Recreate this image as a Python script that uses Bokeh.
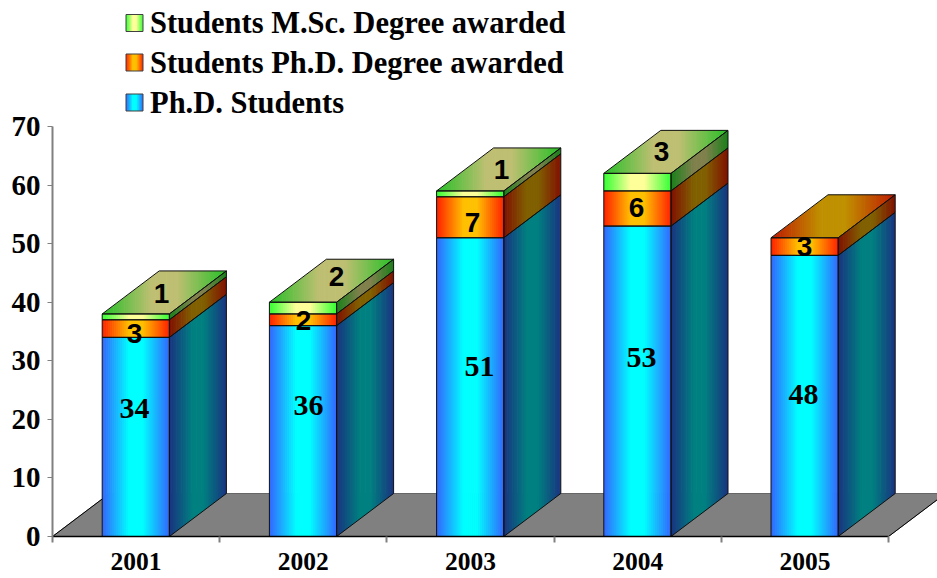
from bokeh.plotting import figure
from bokeh.models import Range1d, FixedTicker
from bokeh.embed import file_html
from bokeh.resources import INLINE
from bokeh.core.properties import value

years = ["2001", "2002", "2003", "2004", "2005"]
phd_students = [34, 36, 51, 53, 48]
phd_awarded = [3, 2, 7, 6, 3]
msc_awarded = [1, 2, 1, 3, 0]
legend_labels = ["Students M.Sc. Degree awarded", "Students Ph.D. Degree awarded", "Ph.D. Students"]
y_ticks = [0, 10, 20, 30, 40, 50, 60, 70]

# layout (page pixels -> data units)
PX_X, PX_Y = 167.2, 5.857
X0_PAGE, Y0_PAGE = 52, 536
DX, DY = 57 / PX_X, 43 / PX_Y
BAR_W = 67.2 / PX_X
OVER = 0.7 / PX_X   # each strip runs under the next, so no seams show
def dx_(px): return 0.5 + (px - X0_PAGE) / PX_X
def dy_(py): return (Y0_PAGE - py) / PX_Y

EDGE = {"blue": (0x33, 0x66, 0xff), "red": (0xff, 0x20, 0x00), "green": (0x33, 0xff, 0x33)}
MID = {"blue": (0, 0xff, 0xff), "red": (0xff, 0xc0, 0), "green": (0xff, 0xff, 0x99)}

def grad(name, t, k=1.0):
    u = max(0.0, (abs(2 * t - 1) - 0.2) / 0.8)
    c = [(e * u + m * (1 - u)) * k for e, m in zip(EDGE[name], MID[name])]
    return "#%02x%02x%02x" % tuple(int(round(v)) for v in c)

N = 34
fig = figure(width=937, height=578, output_backend="svg", toolbar_location=None,
             x_range=Range1d(0.5, 0.5 + (937 - 52) / PX_X), y_range=Range1d(0, Y0_PAGE / PX_Y),
             min_border_left=52, min_border_right=0, min_border_top=0, min_border_bottom=578 - Y0_PAGE,
             outline_line_color=None, background_fill_color="white")
fig.grid.visible = False

xa, ya = fig.xaxis[0], fig.yaxis[0]
ya.ticker = FixedTicker(ticks=y_ticks)
ya.bounds = (0, 70)
ya.axis_line_color = "#808080"
ya.axis_line_width = 2
ya.major_tick_line_color = "#808080"
ya.major_tick_out = 5
ya.major_tick_in = 0
ya.minor_tick_line_color = None
ya.major_label_standoff = 7
ya.major_label_text_font = "Liberation Serif"
ya.major_label_text_font_style = "bold"
ya.major_label_text_font_size = "29px"
ya.major_label_text_color = "black"

xa.ticker = FixedTicker(ticks=[1, 2, 3, 4, 5], minor_ticks=[0.5, 1.5, 2.5, 3.5, 4.5, 5.5])
xa.bounds = (0.5, 5.5)
xa.major_label_overrides = {i + 1: y for i, y in enumerate(years)}
xa.axis_line_color = "black"
xa.axis_line_width = 1.5
xa.major_tick_line_color = None
xa.major_tick_out = 0
xa.major_tick_in = 0
xa.minor_tick_line_color = "#808080"
xa.minor_tick_line_width = 2
xa.minor_tick_out = 6
xa.minor_tick_in = 0
xa.major_label_standoff = 10
xa.major_label_text_font = "Liberation Serif"
xa.major_label_text_font_style = "bold"
xa.major_label_text_font_size = "25.5px"
xa.major_label_text_color = "black"

# floor
fig.patch([0.5, 0.5 + DX, 5.5 + DX, 5.5], [0, DY, DY, 0], fill_color="#808080",
          line_color="#666666", line_width=1)
fig.multi_line([[0.5, 0.5 + DX], [5.5, 5.5 + DX]], [[0, DY], [0, DY]], line_color="black", line_width=1)


def strips_front(x0, w, y0, y1, name, xs, ys, cs):
    for i in range(N):
        a, b = x0 + w * i / N, x0 + w * (i + 1) / N
        if i < N - 1:
            b += OVER
        xs.append([a, b, b, a]); ys.append([y0, y0, y1, y1]); cs.append(grad(name, (i + .5) / N))

def strips_side(x1, y0, y1, name, xs, ys, cs):
    n = N
    for i in range(n):
        a, b = DX * i / n, DX * (i + 1) / n
        if i < n - 1:
            b += OVER
        sa, sb = a / DX * DY, b / DX * DY
        xs.append([x1 + a, x1 + b, x1 + b, x1 + a])
        ys.append([y0 + sa, y0 + sb, y1 + sb, y1 + sa])
        cs.append(grad(name, (i + .5 * N / n) / n, 0.5))

def strips_top(x0, w, yt, name, xs, ys, cs):
    total = w + DX
    n = 2 * N
    cuts = sorted(set([total * i / n for i in range(n + 1)] + [DX, w]))
    upper = lambda t: DY * min(1.0, t / DX)
    lower = lambda t: DY * max(0.0, (t - w) / DX)
    for a, b in zip(cuts[:-1], cuts[1:]):
        xs.append([x0 + a, x0 + b + OVER * (b < total), x0 + b + OVER * (b < total), x0 + a])
        ys.append([yt + lower(a), yt + lower(b), yt + upper(b), yt + upper(a)])
        cs.append(grad(name, (a + b) / 2 / total, 0.75))


for k in range(len(years)):
    cx = k + 1
    x0, x1 = cx - BAR_W / 2 - 0.3 / PX_X, cx + BAR_W / 2 - 0.3 / PX_X
    segs = [(phd_students[k], "blue"), (phd_awarded[k], "red"), (msc_awarded[k], "green")]
    segs = [s for s in segs if s[0] > 0]
    xs, ys, cs, ox, oy = [], [], [], [], []
    base = 0
    for v, name in segs:
        y1 = base + v
        strips_front(x0, BAR_W, base, y1, name, xs, ys, cs)
        strips_side(x1, base, y1, name, xs, ys, cs)
        ox += [[x0, x1, x1, x0, x0], [x1, x1 + DX, x1 + DX, x1, x1]]
        oy += [[base, base, y1, y1, base], [base, base + DY, y1 + DY, y1, base]]
        base = y1
    strips_top(x0, BAR_W, base, segs[-1][1], xs, ys, cs)
    ox.append([x0, x1, x1 + DX, x0 + DX, x0])
    oy.append([base, base, base + DY, base + DY, base])
    fig.patches(xs, ys, fill_color=cs, line_color=None)
    fig.multi_line(ox, oy, line_color="#101010", line_width=1)

# data labels: page-pixel centres, separate from the values
pos_students = [(134, 408), (308, 405), (479, 366), (641, 357), (803, 394)]
pos_phd = [(134, 333), (303, 320), (472, 222), (636, 207), (804, 246)]
pos_msc = [(161, 293), (336, 276), (501, 169), (661, 151), None]

def labels(vals, pos, font, size):
    xs, ys, ts = [], [], []
    for v, p_ in zip(vals, pos):
        if v > 0 and p_:
            xs.append(dx_(p_[0])); ys.append(dy_(p_[1])); ts.append(str(v))
    fig.text(xs, ys, text=ts, text_font=value(font), text_font_style="bold", text_font_size=size,
             text_align="center", text_baseline="middle", text_color="black")

labels(phd_students, pos_students, "Liberation Serif", "30px")
labels(phd_awarded, pos_phd, "Liberation Sans", "28px")
labels(msc_awarded, pos_msc, "Liberation Sans", "28px")

# legend
legend_y = [22.5, 62, 102]
legend_col = ["green", "red", "blue"]
for lab, py, name in zip(legend_labels, legend_y, legend_col):
    xs, ys, cs = [], [], []
    l, r, b, t = dx_(125.5), dx_(142.5), dy_(py + 8.5), dy_(py - 8.5)
    n = 14
    for i in range(n):
        a, c = l + (r - l) * i / n, l + (r - l) * (i + 1) / n
        xs.append([a, c + OVER * (i < n - 1), c + OVER * (i < n - 1), a]); ys.append([b, b, t, t]); cs.append(grad(name, (i + .5) / n))
    fig.patches(xs, ys, fill_color=cs, line_color=None)
    fig.line([l, r, r, l, l], [b, b, t, t, b], line_color="#404040", line_width=1)
    fig.text([dx_(149.5)], [dy_(py)], text=[lab], text_font=value("Liberation Serif"), text_font_style="bold",
             text_font_size="30.5px", text_align="left", text_baseline="middle", text_color="black")

open("out.html", "w").write(file_html(fig, INLINE))
